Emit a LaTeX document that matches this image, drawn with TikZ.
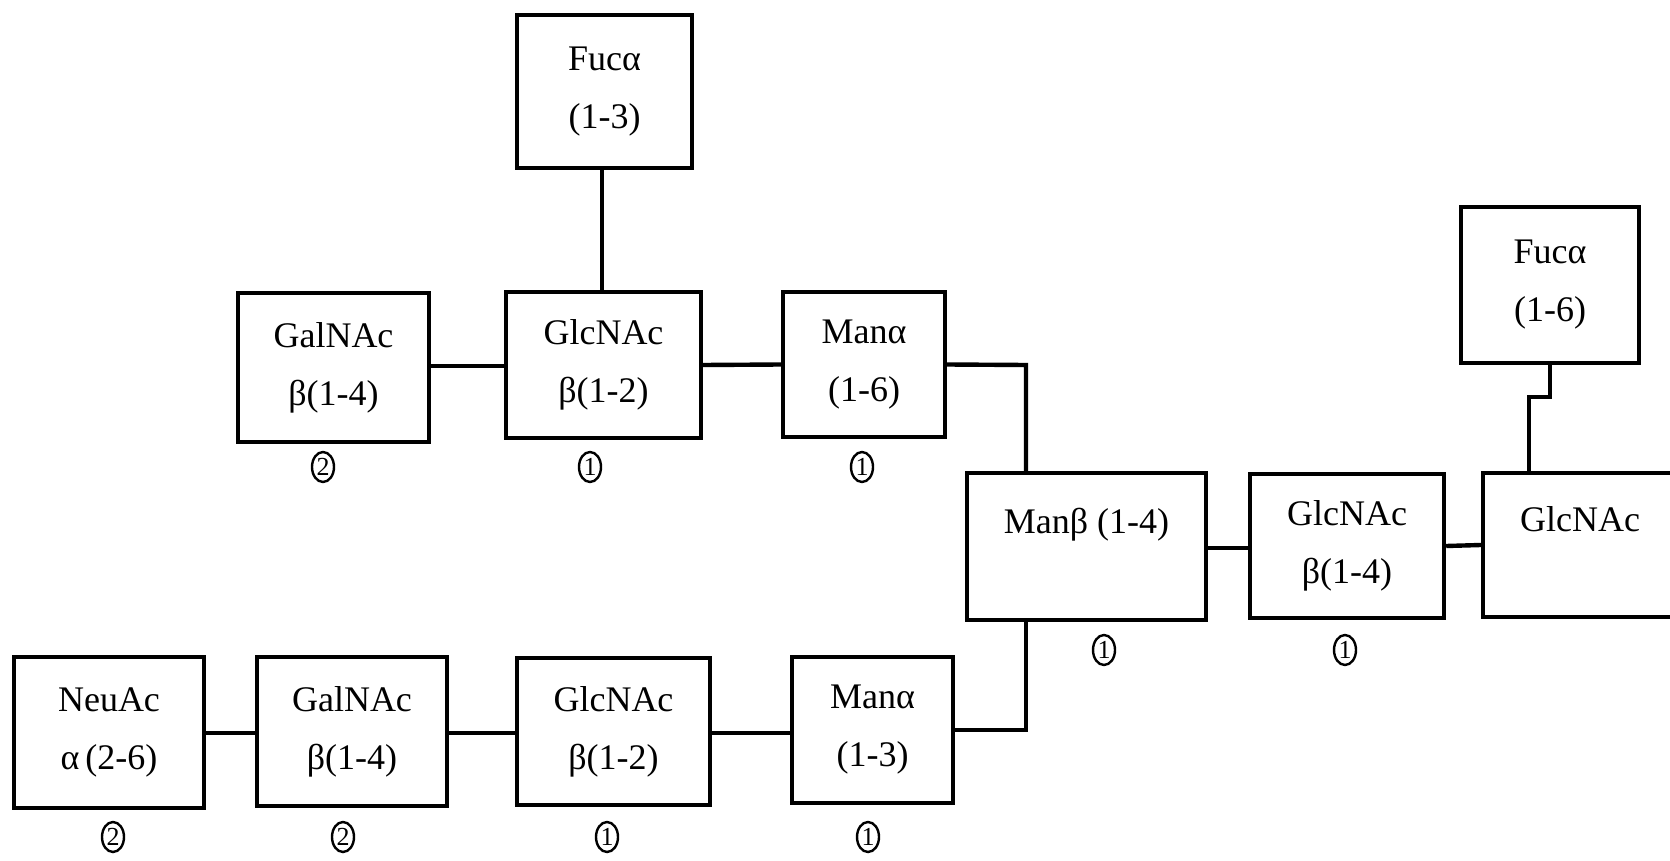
\documentclass[tikz,border=0pt]{standalone}
\usepackage{fontspec}
\setmainfont{Liberation Serif}
\usetikzlibrary{shapes.geometric}
\tikzset{
  sugar/.style={draw, line width=2.2pt, align=center, inner sep=0pt, font=\fontsize{18}{29}\selectfont},
  link/.style={line width=2.2pt},
  num/.style={draw, ellipse, line width=1.2pt, inner sep=0pt, minimum width=11pt, minimum height=15pt, font=\fontsize{13}{13}\selectfont}
}
\begin{document}
\begin{tikzpicture}[x=0.5pt,y=-0.5pt]
\useasboundingbox (0,0) rectangle (1670,861);
\clip (0,0) rectangle (1670,861);
% top branch
\node[sugar, minimum width=87.5pt, minimum height=76.5pt] (fuc13) at (604.5,91.5) {Fucα\\(1-3)};
\node[sugar, minimum width=95.5pt, minimum height=74.5pt] (galT) at (333.5,367.5) {GalNAc\\β(1-4)};
\node[sugar, minimum width=97.5pt, minimum height=73pt] (glcT) at (603.5,365) {GlcNAc\\β(1-2)};
\node[sugar, minimum width=81pt, minimum height=72.5pt] (manT) at (864,364.5) {Manα\\(1-6)};
% core
\node[sugar, minimum width=119.5pt, minimum height=73.5pt] (manB) at (1086.5,546.5) {Manβ (1-4)\\[-12pt]\strut};
\node[sugar, minimum width=97pt, minimum height=72pt] (glc14) at (1347,546) {GlcNAc\\β(1-4)};
\node[sugar, minimum width=97pt, minimum height=72pt] (glcR) at (1580,545) {GlcNAc\\[-12pt]\strut};
\node[sugar, minimum width=89pt, minimum height=78pt] (fuc16) at (1550,285) {Fucα\\(1-6)};
% bottom branch
\node[sugar, minimum width=95pt, minimum height=75.5pt] (neu) at (109,732.5) {NeuAc\\α\,(2-6)};
\node[sugar, minimum width=95pt, minimum height=74.5pt] (galB) at (352,731.5) {GalNAc\\β(1-4)};
\node[sugar, minimum width=96.5pt, minimum height=73.5pt] (glcB) at (613.5,731.5) {GlcNAc\\β(1-2)};
\node[sugar, minimum width=80.5pt, minimum height=73pt] (manB3) at (872.5,730) {Manα\\(1-3)};
% connectors
\coordinate (jt) at (1026,365);
\coordinate (jb) at (1026,730);
\coordinate (f1) at (1550,397);
\coordinate (f2) at (1529,397);
\draw[link] (fuc13.south -| 602,0) -- (glcT.north -| 602,0);
\draw[link] (galT.east |- 0,366) -- (glcT.west |- 0,366);
\draw[link] (glcT.east) -- (manT.west);
\draw[link] (manT.east) -- (jt) -- (jt |- manB.north);
\draw[link] (manB3.east) -- (jb) -- (jb |- manB.south);
\draw[link] (manB.east |- 0,548) -- (glc14.west |- 0,548);
\draw[link] (glc14.east) -- (glcR.west);
\draw[link] (fuc16.south) -- (f1) -- (f2) -- (f2 |- glcR.north);
\draw[link] (neu.east |- 0,733) -- (galB.west |- 0,733);
\draw[link] (galB.east |- 0,733) -- (glcB.west |- 0,733);
\draw[link] (glcB.east |- 0,733) -- (manB3.west |- 0,733);
% circled numbers
\node[num] (nGalT) at (323,467) {2};
\node[num] (nGlcT) at (590,467) {1};
\node[num] (nManT) at (862,467) {1};
\node[num] (nManB) at (1104,650) {1};
\node[num] (nGlc14) at (1345,650) {1};
\node[num] (nNeu) at (113,837) {2};
\node[num] (nGalB) at (343,837) {2};
\node[num] (nGlcB) at (607,837) {1};
\node[num] (nManB3) at (868,837) {1};
\end{tikzpicture}
\end{document}
